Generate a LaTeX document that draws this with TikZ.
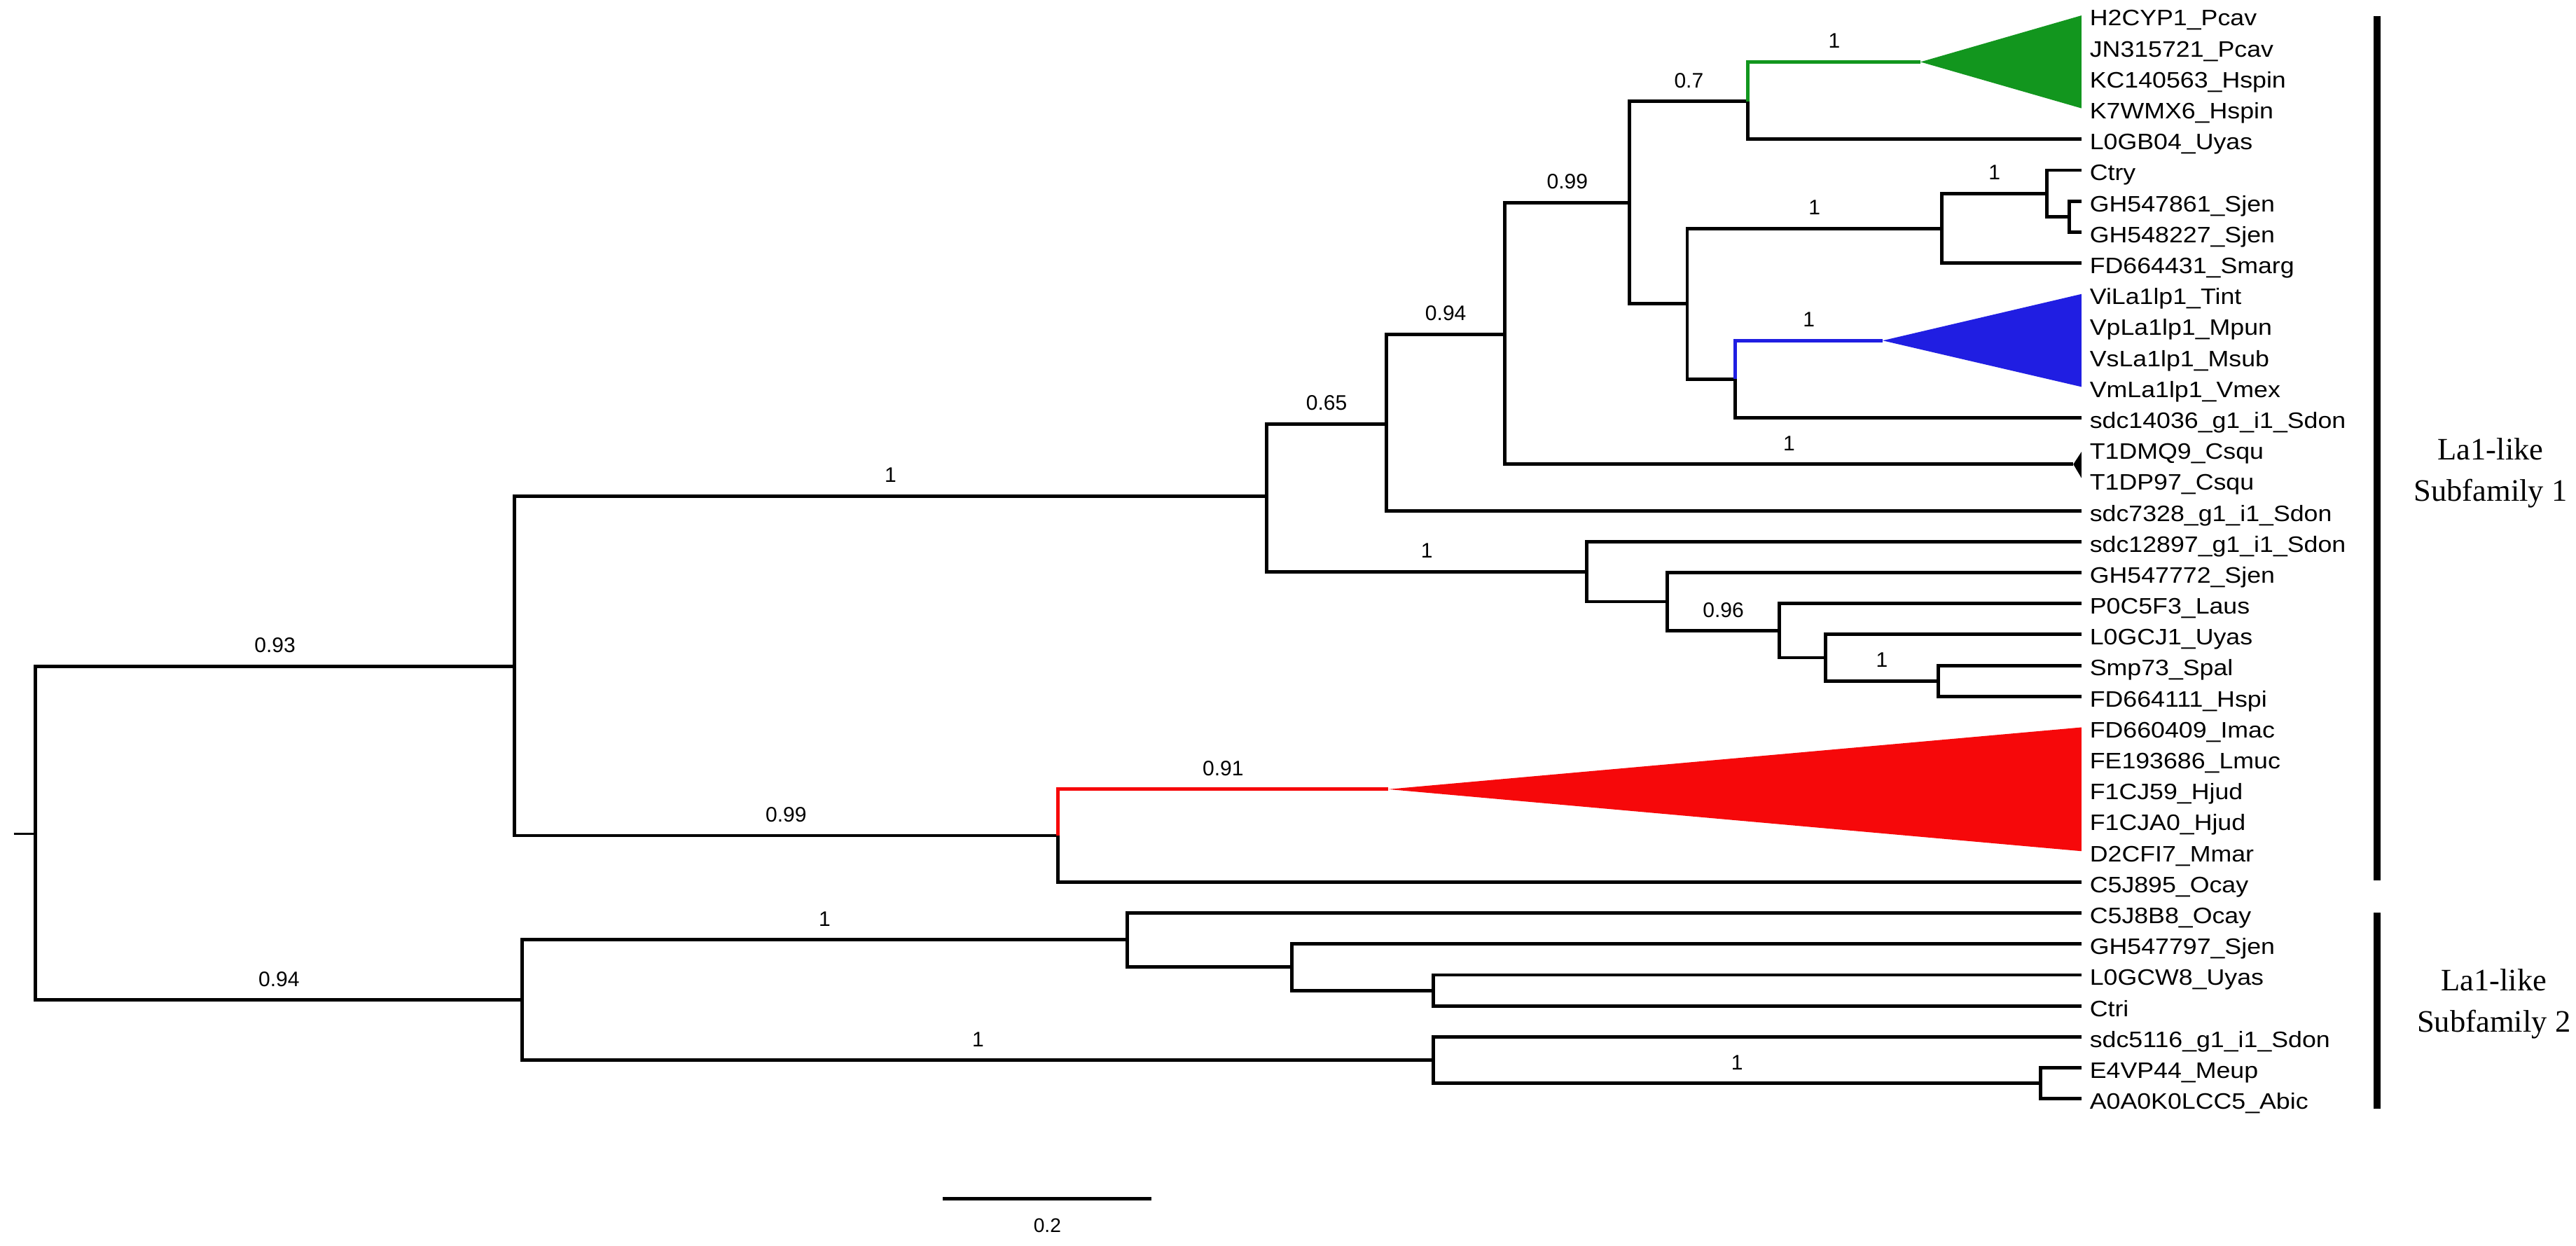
\documentclass[tikz,border=0pt]{standalone}
\usepackage{fontspec}
\setmainfont{Liberation Sans}
\newfontfamily\leaffont[FakeStretch=1.12]{Liberation Sans}
\newfontfamily\famfont{Liberation Serif}
\definecolor{cladeG}{RGB}{18,150,30}
\definecolor{cladeB}{RGB}{32,30,226}
\definecolor{cladeR}{RGB}{246,8,10}

\begin{document}
\begin{tikzpicture}[x=1pt,y=-1pt,line width=2.1pt,
  leaf/.style={anchor=west,inner xsep=4pt,inner ysep=0pt,text height=12.7pt,text depth=0pt,font=\leaffont\fontsize{13.6}{16}\selectfont},
  supp/.style={pos=.75,anchor=base,yshift=8.3pt,inner sep=0pt,text=black,font=\fontsize{12.8}{15}\selectfont},
  famlab/.style={align=center,font=\famfont\fontsize{19}{25}\selectfont}]
\useasboundingbox (0,0) rectangle (1568,758);
\foreach \nm [count=\i from 0] in {H2CYP1\_Pcav,JN315721\_Pcav,KC140563\_Hspin,K7WMX6\_Hspin,L0GB04\_Uyas,Ctry,GH547861\_Sjen,GH548227\_Sjen,FD664431\_Smarg,ViLa1lp1\_Tint,VpLa1lp1\_Mpun,VsLa1lp1\_Msub,VmLa1lp1\_Vmex,sdc14036\_g1\_i1\_Sdon,T1DMQ9\_Csqu,T1DP97\_Csqu,sdc7328\_g1\_i1\_Sdon,sdc12897\_g1\_i1\_Sdon,GH547772\_Sjen,P0C5F3\_Laus,L0GCJ1\_Uyas,Smp73\_Spal,FD664111\_Hspi,FD660409\_Imac,FE193686\_Lmuc,F1CJ59\_Hjud,F1CJA0\_Hjud,D2CFI7\_Mmar,C5J895\_Ocay,C5J8B8\_Ocay,GH547797\_Sjen,L0GCW8\_Uyas,Ctri,sdc5116\_g1\_i1\_Sdon,E4VP44\_Meup,A0A0K0LCC5\_Abic}
  \node[leaf] (l\i) at (1267,{9.4+18.84*\i}) {\nm};
\coordinate (stub) at (8.4,507.5);
\coordinate (root) at (21.7,507.5);
\coordinate (nA) at (313,405.5);
\coordinate (nB) at (771,302);
\coordinate (nC) at (644,508.6);
\coordinate (nD) at (844,258);
\coordinate (nE) at (966,348);
\coordinate (nF) at (916,203.5);
\coordinate (nG) at (992,123.4);
\coordinate (nH) at (1064,61.7);
\coordinate (nI) at (1027,185);
\coordinate (nJ) at (1182,139);
\coordinate (nL) at (1246,117.7);
\coordinate (nM) at (1259.5,131.85);
\coordinate (nK) at (1056,230.8);
\coordinate (nN) at (1015,366.2);
\coordinate (nO) at (1083,383.9);
\coordinate (nP) at (1111,400.3);
\coordinate (nQ) at (1180,414.45);
\coordinate (nS) at (318,608.6);
\coordinate (nT) at (686,572);
\coordinate (nU) at (872.6,645.3);
\coordinate (nV) at (786.5,588.7);
\coordinate (nW) at (872.6,602.85);
\coordinate (nX) at (1242,659.4);
\coordinate (gc) at (1169,37.7);
\coordinate (bc) at (1146,207.3);
\coordinate (rc) at (845,480.4);
\coordinate (tc) at (1262,282.6);
\fill[cladeG] (gc) -- (l0.west) -- (l3.west) -- cycle;
\fill[cladeB] (bc) -- (l9.west) -- (l12.west) -- cycle;
\fill[cladeR] (rc) -- (l23.west) -- (l27.west) -- cycle;
\fill (tc) -- ([yshift=-1.8pt]l14.west) -- ([yshift=1pt]l15.west) -- cycle;
\draw[line width=1pt] (stub) -- (root);
\draw (root) |- node[supp] (s1) {0.93} (nA);
\draw (root) |- node[supp] (s2) {0.94} (nS);
\draw (nA) |- node[supp] (s3) {1} (nB);
\draw (nA) |- node[supp] (s4) {0.99} (nC);
\draw[cladeR] (nC) |- node[supp] (s5) {0.91} (rc);
\draw (nC) |- (l28.west);
\draw (nB) |- node[supp] (s6) {0.65} (nD);
\draw (nB) |- node[supp] (s7) {1} (nE);
\draw (nD) |- node[supp] (s8) {0.94} (nF);
\draw (nD) |- (l16.west);
\draw (nF) |- node[supp] (s9) {0.99} (nG);
\draw (nF) |- node[supp] (s10) {1} (tc);
\draw (nG) |- node[supp] (s11) {0.7} (nH);
\draw (nG) |- (nI);
\draw[cladeG] (nH) |- node[supp] (s12) {1} (gc);
\draw (nH) |- (l4.west);
\draw (nI) |- node[supp] (s13) {1} (nJ);
\draw (nI) |- (nK);
\draw (nJ) |- node[supp] (s14) {1} (nL);
\draw (nJ) |- (l8.west);
\draw (nL) |- (l5.west);
\draw (nL) |- (nM);
\draw (nM) |- (l6.west);
\draw (nM) |- (l7.west);
\draw[cladeB] (nK) |- node[supp] (s15) {1} (bc);
\draw (nK) |- (l13.west);
\draw (nE) |- (l17.west);
\draw (nE) |- (nN);
\draw (nN) |- (l18.west);
\draw (nN) |- node[supp] (s16) {0.96} (nO);
\draw (nO) |- (l19.west);
\draw (nO) |- (nP);
\draw (nP) |- (l20.west);
\draw (nP) |- node[supp] (s17) {1} (nQ);
\draw (nQ) |- (l21.west);
\draw (nQ) |- (l22.west);
\draw (nS) |- node[supp] (s18) {1} (nT);
\draw (nS) |- node[supp] (s19) {1} (nU);
\draw (nT) |- (l29.west);
\draw (nT) |- (nV);
\draw (nV) |- (l30.west);
\draw (nV) |- (nW);
\draw (nW) |- (l31.west);
\draw (nW) |- (l32.west);
\draw (nU) |- (l33.west);
\draw (nU) |- node[supp] (s20) {1} (nX);
\draw (nX) |- (l34.west);
\draw (nX) |- (l35.west);
\coordinate (b1t) at (1447,10);
\coordinate (b1b) at (1447,536);
\coordinate (b2t) at (1447,555.6);
\coordinate (b2b) at (1447,675);
\draw[line width=4.2pt] (b1t) -- (b1b);
\draw[line width=4.2pt] (b2t) -- (b2b);
\node[famlab] (fam1) at (1516,288) {La1-like\\Subfamily 1};
\node[famlab] (fam2) at (1518,611) {La1-like\\Subfamily 2};
\coordinate (sc0) at (574,729.8);
\coordinate (sc1) at (701,729.8);
\draw (sc0) -- (sc1);
\node[font=\fontsize{12}{14}\selectfont] (sclab) at (637.5,746) {0.2};
\end{tikzpicture}
\end{document}
